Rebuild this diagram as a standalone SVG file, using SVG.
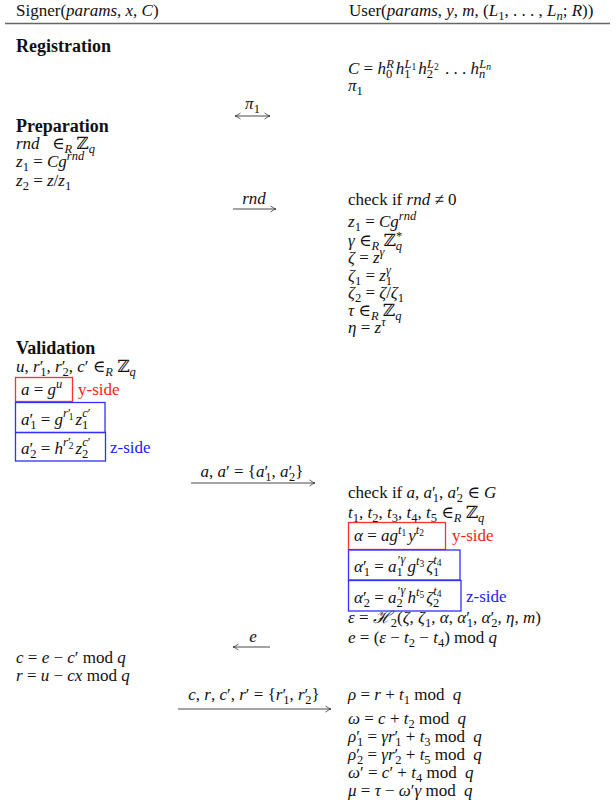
<svg xmlns="http://www.w3.org/2000/svg" width="616" height="806" viewBox="0 0 616 806" font-family="'Liberation Serif', 'Times New Roman', 'DejaVu Serif', serif">
<style>
text { font-family: 'Liberation Serif', 'Times New Roman', 'DejaVu Serif', serif; font-size: 17px; fill: #111; }
.i { font-style: italic; }
.b { font-weight: bold; font-size: 18px; }
.s { font-size: 12.5px; }
.ss { font-size: 9.5px; }
.red { fill: #ff2020; }
.blue { fill: #2020ff; }
.rbox { fill: none; stroke: #ff3030; stroke-width: 1.3; }
.bbox { fill: none; stroke: #3030ff; stroke-width: 1.3; }
.arr { stroke: #333; stroke-width: 0.9; fill: none; }
</style>
<defs>
<marker id="ah" viewBox="0 0 8 8" refX="7" refY="4" markerWidth="8" markerHeight="8" markerUnits="userSpaceOnUse" orient="auto-start-reverse">
<path d="M1.5,1 Q5,3.5 7,4 Q5,4.5 1.5,7" fill="none" stroke="#333" stroke-width="0.8"/>
</marker>
</defs>
<rect width="616" height="806" fill="#fff"/>

<g id="header">
<text x="16" y="16">Signer(<tspan class="i">params</tspan>, <tspan class="i">x</tspan>, <tspan class="i">C</tspan>)</text>
<text x="349" y="16">User(<tspan class="i">params</tspan>, <tspan class="i">y</tspan>, <tspan class="i">m</tspan>, (<tspan class="i">L</tspan><tspan class="s" dy="4">1</tspan><tspan dy="-4">, . . . , </tspan><tspan class="i">L</tspan><tspan class="s i" dy="4">n</tspan><tspan dy="-4">; </tspan><tspan class="i">R</tspan>))</text>
<line x1="5" y1="23.5" x2="610" y2="23.5" stroke="#666" stroke-width="1.6"/>
</g>

<g id="registration">
<text class="b" x="16" y="52">Registration</text>
</g>

<g id="user-registration">
<text x="348" y="74"><tspan class="i">C</tspan> = <tspan class="i">h</tspan><tspan class="s" dy="4">0</tspan><tspan class="s i" dx="-6" dy="-10">R</tspan><tspan class="i" dx="2" dy="6">h</tspan><tspan class="s" dy="4">1</tspan><tspan class="s i" dx="-6" dy="-10">L</tspan><tspan class="ss" dy="2">1</tspan><tspan class="i" dx="2" dy="4">h</tspan><tspan class="s" dy="4">2</tspan><tspan class="s i" dx="-6" dy="-10">L</tspan><tspan class="ss" dy="2">2</tspan><tspan dx="2" dy="4"> . . . </tspan><tspan class="i">h</tspan><tspan class="s i" dy="4">n</tspan><tspan class="s i" dx="-6" dy="-10">L</tspan><tspan class="ss i" dy="2">n</tspan></text>
<text x="348" y="91"><tspan class="i">π</tspan><tspan class="s" dy="4">1</tspan></text>
</g>

<g id="signer-preparation">
<text class="b" x="16" y="132">Preparation</text>
<text x="16" y="149"><tspan class="i">rnd</tspan><tspan dx="8"> ∈</tspan><tspan class="s i" dy="4">R</tspan><tspan dy="-4"> ℤ</tspan><tspan class="s i" dy="4">q</tspan></text>
<text x="16" y="167"><tspan class="i">z</tspan><tspan class="s" dy="4">1</tspan><tspan dy="-4"> = </tspan><tspan class="i">Cg</tspan><tspan class="s i" dy="-7">rnd</tspan></text>
<text x="16" y="186"><tspan class="i">z</tspan><tspan class="s" dy="4">2</tspan><tspan dy="-4"> = </tspan><tspan class="i">z</tspan>/<tspan class="i">z</tspan><tspan class="s" dy="4">1</tspan></text>
</g>

<g id="user-preparation">
<text x="348" y="205">check if <tspan class="i">rnd</tspan> ≠ 0</text>
<text x="348" y="227"><tspan class="i">z</tspan><tspan class="s" dy="4">1</tspan><tspan dy="-4"> = </tspan><tspan class="i">Cg</tspan><tspan class="s i" dy="-7">rnd</tspan></text>
<text x="348" y="246"><tspan class="i">γ</tspan> ∈<tspan class="s i" dy="4">R</tspan><tspan dy="-4"> ℤ</tspan><tspan class="s i" dy="4">q</tspan><tspan class="s" dx="-6" dy="-10">*</tspan></text>
<text x="348" y="263"><tspan class="i">ζ</tspan> = <tspan class="i">z</tspan><tspan class="s i" dy="-7">γ</tspan></text>
<text x="348" y="281"><tspan class="i">ζ</tspan><tspan class="s" dy="4">1</tspan><tspan dy="-4"> = </tspan><tspan class="i">z</tspan><tspan class="s" dy="4">1</tspan><tspan class="s i" dx="-6" dy="-11">γ</tspan></text>
<text x="348" y="298"><tspan class="i">ζ</tspan><tspan class="s" dy="4">2</tspan><tspan dy="-4"> = </tspan><tspan class="i">ζ</tspan>/<tspan class="i">ζ</tspan><tspan class="s" dy="4">1</tspan></text>
<text x="348" y="316"><tspan class="i">τ</tspan> ∈<tspan class="s i" dy="4">R</tspan><tspan dy="-4"> ℤ</tspan><tspan class="s i" dy="4">q</tspan></text>
<text x="348" y="333"><tspan class="i">η</tspan> = <tspan class="i">z</tspan><tspan class="s i" dy="-7">τ</tspan></text>
</g>

<g id="signer-validation">
<text class="b" x="16" y="354">Validation</text>
<text x="16" y="372"><tspan class="i">u</tspan>, <tspan class="i">r</tspan>′<tspan class="s" dx="-3" dy="4">1</tspan><tspan dy="-4">, </tspan><tspan class="i">r</tspan>′<tspan class="s" dx="-3" dy="4">2</tspan><tspan dy="-4">, </tspan><tspan class="i">c</tspan>′ ∈<tspan class="s i" dy="4">R</tspan><tspan dy="-4"> ℤ</tspan><tspan class="s i" dy="4">q</tspan></text>
</g>

<g id="box-a">
<rect class="rbox" x="15.5" y="377.5" width="57" height="24"/>
<text x="21" y="395"><tspan class="i">a</tspan> = <tspan class="i">g</tspan><tspan class="s i" dy="-7">u</tspan></text>
<text class="red" x="78" y="395">y-side</text>
</g>

<g id="box-a1">
<rect class="bbox" x="15.5" y="402.5" width="89.5" height="30"/>
<text x="21" y="425"><tspan class="i">a</tspan>′<tspan class="s" dx="-3" dy="4">1</tspan><tspan dy="-4"> = </tspan><tspan class="i">g</tspan><tspan class="s i" dy="-8">r</tspan><tspan class="s">′</tspan><tspan class="ss" dx="-2" dy="3">1</tspan><tspan class="i" dx="2" dy="5">z</tspan><tspan class="s" dy="4">1</tspan><tspan class="s i" dx="-6" dy="-12">c</tspan><tspan class="s">′</tspan></text>
</g>

<g id="box-a2">
<rect class="bbox" x="15.5" y="432.5" width="90" height="28.5"/>
<text x="21" y="454"><tspan class="i">a</tspan>′<tspan class="s" dx="-3" dy="4">2</tspan><tspan dy="-4"> = </tspan><tspan class="i">h</tspan><tspan class="s i" dy="-8">r</tspan><tspan class="s">′</tspan><tspan class="ss" dx="-2" dy="3">2</tspan><tspan class="i" dx="2" dy="5">z</tspan><tspan class="s" dy="4">2</tspan><tspan class="s i" dx="-6" dy="-12">c</tspan><tspan class="s">′</tspan></text>
<text class="blue" x="110" y="453">z-side</text>
</g>

<g id="user-validation">
<text x="348" y="498">check if <tspan class="i">a</tspan>, <tspan class="i">a</tspan>′<tspan class="s" dx="-3" dy="4">1</tspan><tspan dy="-4">, </tspan><tspan class="i">a</tspan>′<tspan class="s" dx="-3" dy="4">2</tspan><tspan dy="-4"> ∈ </tspan><tspan class="i">G</tspan></text>
<text x="348" y="518"><tspan class="i">t</tspan><tspan class="s" dy="4">1</tspan><tspan dy="-4">, </tspan><tspan class="i">t</tspan><tspan class="s" dy="4">2</tspan><tspan dy="-4">, </tspan><tspan class="i">t</tspan><tspan class="s" dy="4">3</tspan><tspan dy="-4">, </tspan><tspan class="i">t</tspan><tspan class="s" dy="4">4</tspan><tspan dy="-4">, </tspan><tspan class="i">t</tspan><tspan class="s" dy="4">5</tspan><tspan dy="-4"> ∈</tspan><tspan class="s i" dy="4">R</tspan><tspan dy="-4"> ℤ</tspan><tspan class="s i" dy="4">q</tspan></text>
</g>

<g id="box-alpha">
<rect class="rbox" x="348.5" y="522.5" width="97" height="27"/>
<text x="354" y="541"><tspan class="i">α</tspan> = <tspan class="i">ag</tspan><tspan class="s i" dy="-7">t</tspan><tspan class="ss" dy="2">1</tspan><tspan class="i" dx="2" dy="5">y</tspan><tspan class="s i" dy="-7">t</tspan><tspan class="ss" dy="2">2</tspan></text>
<text class="red" x="452" y="541">y-side</text>
</g>

<g id="box-alpha1">
<rect class="bbox" x="348.5" y="550" width="111.5" height="30"/>
<text x="354" y="572"><tspan class="i">α</tspan>′<tspan class="s" dx="-3" dy="4">1</tspan><tspan dy="-4"> = </tspan><tspan class="i">a</tspan><tspan class="s" dy="4">1</tspan><tspan class="s" dx="-5" dy="-12">′</tspan><tspan class="s i" dy="-1">γ</tspan><tspan class="i" dx="2" dy="9">g</tspan><tspan class="s i" dy="-7">t</tspan><tspan class="ss" dy="2">3</tspan><tspan class="i" dx="2" dy="5">ζ</tspan><tspan class="s" dy="4">1</tspan><tspan class="s i" dx="-6" dy="-12">t</tspan><tspan class="ss" dy="2">4</tspan></text>
</g>

<g id="box-alpha2">
<rect class="bbox" x="348.5" y="580.5" width="112.5" height="30.5"/>
<text x="354" y="603"><tspan class="i">α</tspan>′<tspan class="s" dx="-3" dy="4">2</tspan><tspan dy="-4"> = </tspan><tspan class="i">a</tspan><tspan class="s" dy="4">2</tspan><tspan class="s" dx="-5" dy="-12">′</tspan><tspan class="s i" dy="-1">γ</tspan><tspan class="i" dx="2" dy="9">h</tspan><tspan class="s i" dy="-7">t</tspan><tspan class="ss" dy="2">5</tspan><tspan class="i" dx="2" dy="5">ζ</tspan><tspan class="s" dy="4">2</tspan><tspan class="s i" dx="-6" dy="-12">t</tspan><tspan class="ss" dy="2">4</tspan></text>
<text class="blue" x="466" y="602">z-side</text>
</g>

<g id="user-challenge">
<text x="348" y="623"><tspan class="i">ε</tspan> = <tspan class="i">ℋ</tspan><tspan class="s" dy="4">2</tspan><tspan dy="-4">(</tspan><tspan class="i">ζ</tspan>, <tspan class="i">ζ</tspan><tspan class="s" dy="4">1</tspan><tspan dy="-4">, </tspan><tspan class="i">α</tspan>, <tspan class="i">α</tspan>′<tspan class="s" dx="-3" dy="4">1</tspan><tspan dy="-4">, </tspan><tspan class="i">α</tspan>′<tspan class="s" dx="-3" dy="4">2</tspan><tspan dy="-4">, </tspan><tspan class="i">η</tspan>, <tspan class="i">m</tspan>)</text>
<text x="348" y="643"><tspan class="i">e</tspan> = (<tspan class="i">ε</tspan> − <tspan class="i">t</tspan><tspan class="s" dy="4">2</tspan><tspan dy="-4"> − </tspan><tspan class="i">t</tspan><tspan class="s" dy="4">4</tspan><tspan dy="-4">) mod </tspan><tspan class="i">q</tspan></text>
</g>

<g id="signer-response">
<text x="16" y="663"><tspan class="i">c</tspan> = <tspan class="i">e</tspan> − <tspan class="i">c</tspan>′ mod <tspan class="i">q</tspan></text>
<text x="16" y="681"><tspan class="i">r</tspan> = <tspan class="i">u</tspan> − <tspan class="i">cx</tspan> mod <tspan class="i">q</tspan></text>
</g>

<g id="user-unblind">
<text x="348" y="700"><tspan class="i">ρ</tspan> = <tspan class="i">r</tspan> + <tspan class="i">t</tspan><tspan class="s" dy="4">1</tspan><tspan dy="-4"> mod </tspan><tspan class="i" dx="4">q</tspan></text>
<text x="348" y="724"><tspan class="i">ω</tspan> = <tspan class="i">c</tspan> + <tspan class="i">t</tspan><tspan class="s" dy="4">2</tspan><tspan dy="-4"> mod </tspan><tspan class="i" dx="4">q</tspan></text>
<text x="348" y="742"><tspan class="i">ρ</tspan>′<tspan class="s" dx="-3" dy="4">1</tspan><tspan dy="-4"> = </tspan><tspan class="i">γr</tspan>′<tspan class="s" dx="-3" dy="4">1</tspan><tspan dy="-4"> + </tspan><tspan class="i">t</tspan><tspan class="s" dy="4">3</tspan><tspan dy="-4"> mod </tspan><tspan class="i" dx="4">q</tspan></text>
<text x="348" y="760"><tspan class="i">ρ</tspan>′<tspan class="s" dx="-3" dy="4">2</tspan><tspan dy="-4"> = </tspan><tspan class="i">γr</tspan>′<tspan class="s" dx="-3" dy="4">2</tspan><tspan dy="-4"> + </tspan><tspan class="i">t</tspan><tspan class="s" dy="4">5</tspan><tspan dy="-4"> mod </tspan><tspan class="i" dx="4">q</tspan></text>
<text x="348" y="778"><tspan class="i">ω</tspan>′ = <tspan class="i">c</tspan>′ + <tspan class="i">t</tspan><tspan class="s" dy="4">4</tspan><tspan dy="-4"> mod </tspan><tspan class="i" dx="4">q</tspan></text>
<text x="348" y="796"><tspan class="i">μ</tspan> = <tspan class="i">τ</tspan> − <tspan class="i">ω</tspan>′<tspan class="i">γ</tspan> mod <tspan class="i" dx="4">q</tspan></text>
</g>

<g id="connectors">
<line class="arr" x1="235" y1="116" x2="270" y2="116" marker-start="url(#ah)" marker-end="url(#ah)"/>
<text x="252.5" y="109" text-anchor="middle"><tspan class="i">π</tspan><tspan class="s" dy="4">1</tspan></text>
<line class="arr" x1="233" y1="209" x2="276" y2="209" marker-end="url(#ah)"/>
<text class="i" x="254" y="204" text-anchor="middle">rnd</text>
<line class="arr" x1="191" y1="483" x2="315" y2="483" marker-end="url(#ah)"/>
<text x="252" y="477" text-anchor="middle"><tspan class="i">a</tspan>, <tspan class="i">a</tspan>′ = {<tspan class="i">a</tspan>′<tspan class="s" dx="-3" dy="4">1</tspan><tspan dy="-4">, </tspan><tspan class="i">a</tspan>′<tspan class="s" dx="-3" dy="4">2</tspan><tspan dy="-4">}</tspan></text>
<line class="arr" x1="233" y1="647" x2="270" y2="647" marker-start="url(#ah)"/>
<text class="i" x="253" y="642" text-anchor="middle">e</text>
<line class="arr" x1="178" y1="709" x2="331" y2="709" marker-end="url(#ah)"/>
<text x="254" y="700" text-anchor="middle"><tspan class="i">c</tspan>, <tspan class="i">r</tspan>, <tspan class="i">c</tspan>′, <tspan class="i">r</tspan>′ = {<tspan class="i">r</tspan>′<tspan class="s" dx="-3" dy="4">1</tspan><tspan dy="-4">, </tspan><tspan class="i">r</tspan>′<tspan class="s" dx="-3" dy="4">2</tspan><tspan dy="-4">}</tspan></text>
</g>
</svg>
